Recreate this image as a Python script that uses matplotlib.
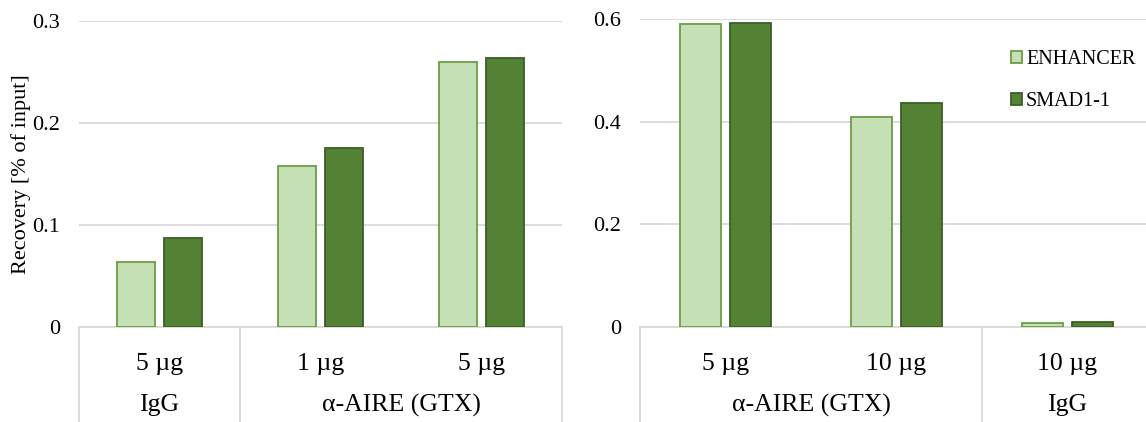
import matplotlib.pyplot as plt
import matplotlib.transforms as mtransforms
from matplotlib.patches import Patch
from matplotlib.lines import Line2D

plt.rcParams["font.family"] = ["Liberation Serif", "DejaVu Serif"]

# left panel
left_doses = ["5 µg", "1 µg", "5 µg"]
left_groups = ["IgG", "α-AIRE (GTX)"]
left_group_sizes = [1, 2]
left_enhancer = [0.064, 0.158, 0.260]
left_smad = [0.087, 0.175, 0.264]

# right panel
right_doses = ["5 µg", "10 µg", "10 µg"]
right_groups = ["α-AIRE (GTX)", "IgG"]
right_group_sizes = [2, 1]
right_enhancer = [0.591, 0.409, 0.007]
right_smad = [0.592, 0.436, 0.009]

series_names = ["ENHANCER", "SMAD1-1"]
light_fill, light_edge = "#C5E0B4", "#6A9E45"
dark_fill, dark_edge = "#548235", "#3B5E25"
grid_col = "#D9D9D9"

W, H = 1146, 422
fig = plt.figure(figsize=(W / 100, H / 100), dpi=100)


def px_axes(x0, x1, y_top, y_bot):
    return fig.add_axes([x0 / W, (H - y_bot) / H, (x1 - x0) / W, (y_bot - y_top) / H])


def draw_panel(ax, doses, groups, sizes, enh, smad, ymax, yticks, ticklabels):
    x = list(range(len(doses)))
    w, off = 0.24, 0.146
    ax.bar([i - off for i in x], enh, w, color=light_fill, edgecolor=light_edge, lw=1.3, zorder=3)
    ax.bar([i + off for i in x], smad, w, color=dark_fill, edgecolor=dark_edge, lw=1.3, zorder=3)
    ax.set_xlim(-0.5, len(doses) - 0.5)
    ax.set_ylim(0, ymax)
    ax.set_yticks(yticks)
    ax.set_yticklabels(ticklabels)
    ax.set_xticks([])
    ax.tick_params(axis="y", length=0, pad=13.5, labelsize=16)
    ax.yaxis.grid(True, color=grid_col, lw=1.3, zorder=0)
    ax.set_axisbelow(True)
    for s in ["top", "right", "left"]:
        ax.spines[s].set_visible(False)
    ax.spines["bottom"].set_color(grid_col)
    ax.spines["bottom"].set_linewidth(1.3)

    # multi-level category axis below the plot
    tr = mtransforms.blended_transform_factory(ax.transData, fig.transFigure)
    y_axis = ax.get_position().y0
    for i, d in enumerate(doses):
        ax.text(i, (H - 364) / H, d, transform=tr, ha="center", va="center", fontsize=18.5)
    start = -0.5
    bounds = [start]
    for g, n in zip(groups, sizes):
        ax.text(start + n / 2, (H - 405) / H, g, transform=tr, ha="center", va="center", fontsize=18.5)
        start += n
        bounds.append(start)
    for b in bounds:
        ax.add_line(Line2D([b, b], [0, y_axis], transform=tr, color=grid_col, lw=1.3, clip_on=False))


ax1 = px_axes(79, 562, 21, 327)
draw_panel(ax1, left_doses, left_groups, left_group_sizes, left_enhancer, left_smad,
           0.3, [0, 0.1, 0.2, 0.3], ["0", "0.1", "0.2", "0.3"])
ax1.set_ylabel("Recovery [% of input]", fontsize=16)
ax1.yaxis.set_label_coords(31 / W, 0.5, transform=mtransforms.blended_transform_factory(fig.transFigure, ax1.transAxes))

ax2 = px_axes(640, 1153, 19, 327)
draw_panel(ax2, right_doses, right_groups, right_group_sizes, right_enhancer, right_smad,
           0.6, [0, 0.2, 0.4, 0.6], ["0", "0.2", "0.4", "0.6"])

handles = [Patch(facecolor=light_fill, edgecolor=light_edge, lw=1.3, label=series_names[0]),
           Patch(facecolor=dark_fill, edgecolor=dark_edge, lw=1.3, label=series_names[1])]
fig.legend(handles=handles, loc="upper left", bbox_to_anchor=(1011 / W, (H - 50) / H),
           frameon=False, fontsize=14.5, handlelength=0.55, handleheight=0.55,
           handletextpad=0.2, labelspacing=1.15, borderpad=0, borderaxespad=0)

fig.savefig("out.png", dpi=100)
